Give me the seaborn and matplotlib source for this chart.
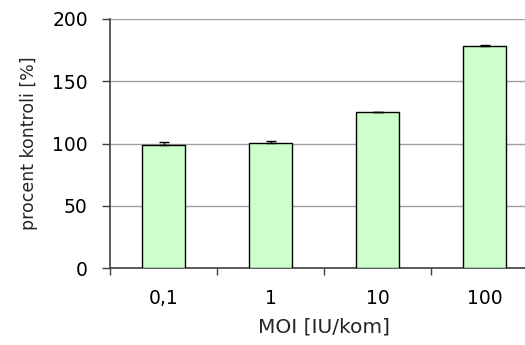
import seaborn as sns
import matplotlib.pyplot as plt
import pandas as pd

sns.set_theme(style="white")
plt.rcParams['font.family'] = ['DejaVu Sans']

# dane
moi = ["0,1", "1", "10", "100"]
procent = [98.5, 100.4, 125.3, 178.5]
blad = [2.8, 1.8, 0.4, 0.5]

df = pd.DataFrame({"moi": moi, "procent": procent})

fig = plt.figure(figsize=(5.25, 3.45), dpi=100)
ax = fig.add_axes([110 / 525, 77 / 345, 428 / 525, 249 / 345])

sns.barplot(data=df, x="moi", y="procent", color="#CCFFCC", width=0.41,
            edgecolor="black", linewidth=1.0, saturation=1, ax=ax, zorder=3)
ax.errorbar(range(len(moi)), procent, yerr=[[0] * len(blad), blad],
            fmt="none", ecolor="black", elinewidth=1, capsize=3.8, zorder=4)

ax.set_ylim(0, 200)
ax.set_yticks([0, 50, 100, 150, 200])
ax.set_xlim(-0.5, 3.5)
ax.set_xticks([-0.5, 0.5, 1.5, 2.5, 3.5])
ax.set_xticklabels([])
ax.set_xticks(range(len(moi)), minor=True)
ax.set_xticklabels(moi, minor=True)
ax.tick_params(axis="x", which="major", direction="out", length=5, width=1, colors="#404040", bottom=True)
ax.tick_params(axis="x", which="minor", length=0, pad=15, labelsize=13.5, labelcolor="black")
ax.tick_params(axis="y", direction="out", length=6, width=1, colors="#404040", left=True,
               labelsize=13.5, labelcolor="black", pad=10)

ax.yaxis.grid(True, color="#a0a0a0", linewidth=1)
ax.set_axisbelow(True)
sns.despine(ax=ax, top=True, right=True)
for s in ["left", "bottom"]:
    ax.spines[s].set_color("#404040")
    ax.spines[s].set_linewidth(1.2)

ax.set_xlabel("MOI [IU/kom]", fontsize=14.5, labelpad=7)
ax.set_ylabel("procent kontroli [%]", fontsize=12.5, labelpad=10)

fig.savefig("out.png", dpi=100)
